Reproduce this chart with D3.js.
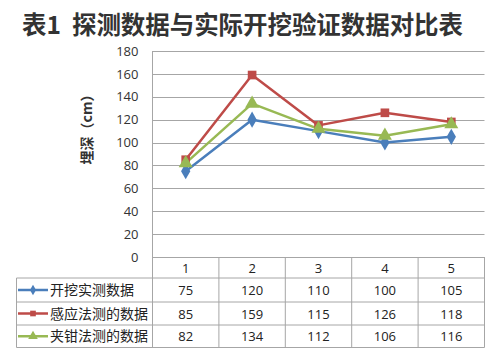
<!DOCTYPE html>
<html><head><meta charset="utf-8">
<script src="https://cdn.jsdelivr.net/npm/d3@7"></script>
<style>
body{margin:0;background:#fff;}
text{font-family:"Noto Sans CJK SC","Open Sans",sans-serif;}
</style></head>
<body>
<svg id="c" width="500" height="363"></svg>
<script>
const titleHead = "表1";
const titleBody = "探测数据与实际开挖验证数据对比表";
const yLabel = "埋深（cm）";
const categories = ["1","2","3","4","5"];
const seriesNames = ["开挖实测数据","感应法测的数据","夹钳法测的数据"];
const seriesA = [75,120,110,100,105];
const seriesB = [85,159,115,126,118];
const seriesC = [82,134,112,106,116];
const yTicks = [0,20,40,60,80,100,120,140,160,180];
const colors = ["#4a7ebb","#be4b48","#98b954"];
const markers = [d3.symbolDiamond, d3.symbolSquare, d3.symbolTriangle];

(function(){
const series = [seriesA, seriesB, seriesC];
const svg = d3.select("#c");
const pLeft = 152.5, pRight = 484.5, pTop = 51, pBottom = 257;
const x = d3.scaleBand().domain(categories).range([pLeft, pRight]);
const y = d3.scaleLinear().domain([0,180]).range([pBottom, pTop]);
const grid = "#a6a6a6";

svg.append("text").attr("x",22).attr("y",34)
  .attr("font-size",24.5).attr("font-weight","bold").attr("fill","#333").text(titleHead);
svg.append("text").attr("x",72).attr("y",34).attr("textLength",391).attr("lengthAdjust","spacing")
  .attr("font-size",24.5).attr("font-weight","bold").attr("fill","#333").text(titleBody);

svg.append("g").selectAll("line").data(yTicks).join("line")
  .attr("x1",pLeft).attr("x2",pRight)
  .attr("y1",d=>Math.round(y(d))+0.5).attr("y2",d=>Math.round(y(d))+0.5)
  .attr("stroke",grid).attr("stroke-width",1);
svg.append("line").attr("x1",pLeft).attr("x2",pLeft).attr("y1",pTop).attr("y2",pBottom)
  .attr("stroke",grid);

const yAxis = d3.axisLeft(y).tickValues(yTicks).tickSize(0).tickPadding(0);
const ga = svg.append("g").attr("transform",`translate(${pLeft-14},0)`).call(yAxis);
ga.select(".domain").remove();
ga.selectAll("text").attr("font-size",13).attr("fill","#333")
  .style("font-family","'Open Sans',sans-serif");

svg.append("text").attr("transform","translate(92,126) rotate(-90)")
  .attr("text-anchor","middle").attr("font-size",14).attr("font-weight","bold")
  .attr("fill","#333").text(yLabel);

const line = d3.line().x((d,i)=>x(categories[i])+x.bandwidth()/2).y(d=>y(d));
series.forEach((s,k)=>{
  svg.append("path").datum(s).attr("d",line).attr("fill","none")
    .attr("stroke",colors[k]).attr("stroke-width",2.5).attr("stroke-linejoin","round");
});
series.forEach((s,k)=>{
  svg.append("g").selectAll("path").data(s).join("path")
    .attr("transform",(d,i)=>`translate(${x(categories[i])+x.bandwidth()/2},${y(d)})`)
    .attr("d",d3.symbol().type(markers[k]).size(k===2?85:75))
    .attr("fill",colors[k]);
});

const rowY = [257, 278, 302, 325, 347.5];
const tleft = 16.5;
const tg = svg.append("g");
tg.append("line").attr("x1",pLeft).attr("x2",pRight).attr("y1",rowY[0]+0.5).attr("y2",rowY[0]+0.5).attr("stroke",grid);
for(let r=1;r<rowY.length;r++){
  tg.append("line").attr("x1",tleft).attr("x2",pRight).attr("y1",rowY[r]).attr("y2",rowY[r]).attr("stroke",grid);
}
tg.append("line").attr("x1",tleft).attr("x2",tleft).attr("y1",rowY[1]).attr("y2",rowY[4]).attr("stroke",grid);
const colEdges = categories.map(c=>x(c)).concat([pRight]);
colEdges.forEach(xx=>{
  tg.append("line").attr("x1",xx).attr("x2",xx).attr("y1",rowY[0]).attr("y2",rowY[4]).attr("stroke",grid);
});
tg.selectAll("text.h").data(categories).join("text").attr("class","h")
  .attr("x",d=>x(d)+x.bandwidth()/2).attr("y",(rowY[0]+rowY[1])/2+5)
  .attr("text-anchor","middle").attr("font-size",13).attr("fill","#222")
  .style("font-family","'Open Sans',sans-serif").text(d=>d);
series.forEach((s,k)=>{
  const cy = (rowY[k+1]+rowY[k+2])/2;
  tg.append("line").attr("x1",18).attr("x2",48).attr("y1",cy).attr("y2",cy)
    .attr("stroke",colors[k]).attr("stroke-width",2.5);
  tg.append("path").attr("transform",`translate(33,${cy})`)
    .attr("d",d3.symbol().type(markers[k]).size(k===2?40:32)).attr("fill",colors[k]);
  tg.append("text").attr("x",50).attr("y",cy+5).attr("font-size",14).attr("fill","#222")
    .text(seriesNames[k]);
  tg.selectAll(null).data(s).join("text")
    .attr("x",(d,i)=>x(categories[i])+x.bandwidth()/2).attr("y",cy+5)
    .attr("text-anchor","middle").attr("font-size",13).attr("fill","#222")
    .style("font-family","'Open Sans',sans-serif").text(d=>d);
});
})();
</script>
</body></html>
